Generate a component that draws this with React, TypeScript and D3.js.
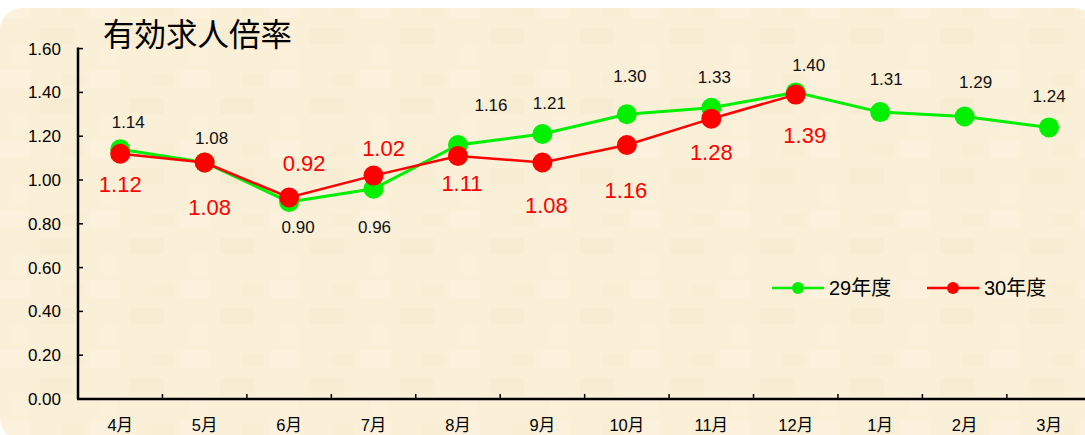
import React from 'react';
import * as d3 from 'd3';

const months = ['4月', '5月', '6月', '7月', '8月', '9月', '10月', '11月', '12月', '1月', '2月', '3月'];
const fy29 = [1.14, 1.08, 0.9, 0.96, 1.16, 1.21, 1.3, 1.33, 1.4, 1.31, 1.29, 1.24];
const fy30 = [1.12, 1.08, 0.92, 1.02, 1.11, 1.08, 1.16, 1.28, 1.39];
const yTicks = [0, 0.2, 0.4, 0.6, 0.8, 1.0, 1.2, 1.4, 1.6];
const seriesNames = ['29年度', '30年度'];
const title = '有効求人倍率';

// where each value label sits, relative to its point (hand placed in the original)
const fy29LabelOffsets = [[8, -27], [7, -25], [9, 25], [1, 38], [33, -40], [7, -31], [3, -38], [3, -31], [13, -28], [6, -33], [11, -35], [0, -32]];
const fy30LabelOffsets = [[0, 30], [5, 45], [15, -34], [10, -28], [4, 27], [4, 43], [-1, 45], [0, 33], [9, 40]];

const W = 1085;
const H = 435;
const FONT = '"Liberation Sans", "Noto Sans CJK JP", sans-serif';

export default function App() {
  const margin = {left: 78, top: 48.6, bottom: 36};
  const bandW = 84.44;

  const x = d3.scaleBand<string>()
    .domain(months)
    .range([margin.left, margin.left + bandW * months.length]);
  const y = d3.scaleLinear()
    .domain([0, 1.6])
    .range([H - margin.bottom, margin.top]);

  const cx = (i: number) => (x(months[i]) as number) + x.bandwidth() / 2;

  const line = d3.line<number>()
    .x((_, i) => cx(i))
    .y(d => y(d));

  const series = [
    {name: seriesNames[0], values: fy29, color: '#00F000', width: 3, offsets: fy29LabelOffsets, labelColor: '#111', labelSize: 17},
    {name: seriesNames[1], values: fy30, color: '#FF0000', width: 2.5, offsets: fy30LabelOffsets, labelColor: '#FF0000', labelSize: 22},
  ];

  const fmt = d3.format('.2f');
  const y0 = y(0);

  return (
    <svg width={W} height={H} style={{position: 'absolute', left: 0, top: 0, fontFamily: FONT}}>
      <defs>
        <pattern id="paper" width="90" height="70" patternUnits="userSpaceOnUse">
          <rect width="90" height="70" fill="#FAEFD7" />
          <rect x="0" y="0" width="30" height="18" fill="#fff" opacity="0.12" />
          <rect x="40" y="28" width="34" height="16" fill="#f2e0bc" opacity="0.2" />
          <rect x="10" y="44" width="18" height="22" fill="#fff8e8" opacity="0.25" />
          <rect x="62" y="4" width="22" height="12" fill="#f4e4c4" opacity="0.22" />
        </pattern>
      </defs>
      <rect x={0} y={8} width={W + 12} height={432} rx={22} fill="url(#paper)" />

      <text x={103} y={46} fontSize={31.5} fill="#000" fontFamily='"Noto Sans CJK JP", sans-serif'>{title}</text>

      {/* y axis */}
      <line x1={margin.left} x2={margin.left} y1={y(1.6) - 1} y2={y0} stroke="#000" strokeWidth={2.5} />
      {yTicks.map(t => (
        <g key={t}>
          <line x1={margin.left} x2={margin.left + 5} y1={y(t)} y2={y(t)} stroke="#000" strokeWidth={1.5} />
          <text x={61} y={y(t) + 6} textAnchor="end" fontSize={17} fill="#000">{fmt(t)}</text>
        </g>
      ))}

      {/* x axis */}
      <line x1={margin.left - 1} x2={W} y1={y0} y2={y0} stroke="#000" strokeWidth={2.5} />
      {months.map((m, i) => (
        <g key={m}>
          {i > 0 && (
            <line x1={x(m)} x2={x(m)} y1={y0} y2={y0 - 5} stroke="#000" strokeWidth={1.5} />
          )}
          <text x={cx(i)} y={431} textAnchor="middle" fontSize={16.5} fill="#000">{m}</text>
        </g>
      ))}

      {/* series */}
      {series.map(s => (
        <g key={s.name}>
          <path d={line(s.values) || ''} fill="none" stroke={s.color} strokeWidth={s.width} />
          {s.values.map((v, i) => (
            <circle key={i} cx={cx(i)} cy={y(v)} r={10} fill={s.color} />
          ))}
        </g>
      ))}

      {/* value labels */}
      {series.map(s => (
        <g key={s.name + '-labels'}>
          {s.values.map((v, i) => (
            <text key={i} x={cx(i) + s.offsets[i][0]} y={y(v) + s.offsets[i][1] + s.labelSize * 0.36}
              textAnchor="middle" fontSize={s.labelSize} fill={s.labelColor}>{fmt(v)}</text>
          ))}
        </g>
      ))}

      {/* legend */}
      {series.map((s, i) => {
        const lx = 772 + i * 155;
        return (
          <g key={s.name + '-legend'} transform={`translate(${lx},288)`}>
            <line x1={0} x2={52} y1={0} y2={0} stroke={s.color} strokeWidth={2.5} />
            <circle cx={26} cy={0} r={6} fill={s.color} />
            <text x={57} y={7} fontSize={20} fill="#000">{s.name}</text>
          </g>
        );
      })}
    </svg>
  );
}
